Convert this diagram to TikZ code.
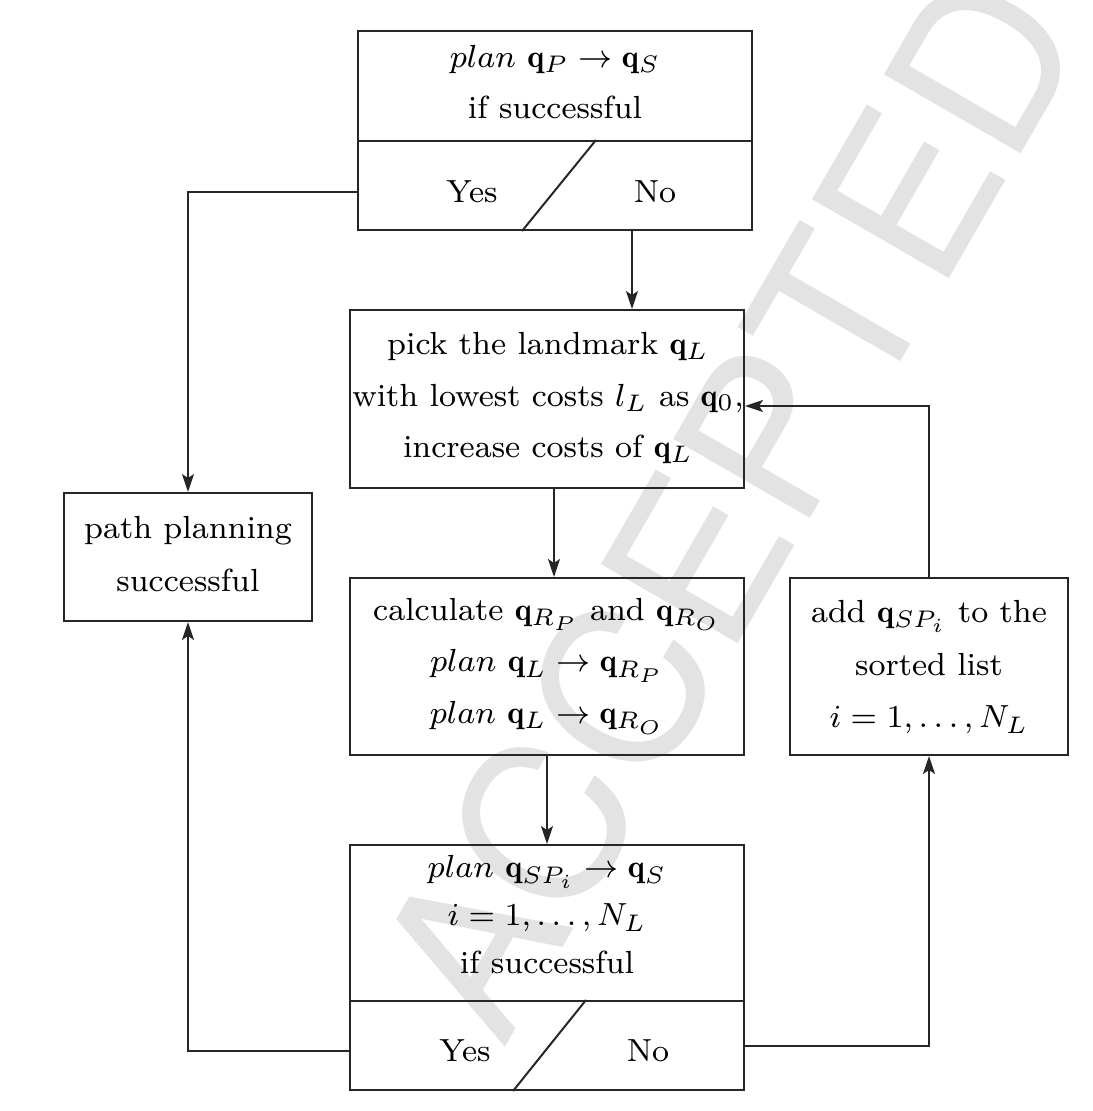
\documentclass[tikz,border=0pt]{standalone}
\usepackage{fontspec}
\newfontfamily\wmfont{TeX Gyre Heros}
\usetikzlibrary{arrows.meta,calc}
\tikzset{
  box/.style={draw=black!85, line width=0.6pt, inner sep=0pt, rectangle},
  txt/.style={inner sep=0pt, align=center, scale=1.2, transform shape, font=\fontsize{8}{12.9}\selectfont},
  conn/.style={draw=black!85, line width=0.6pt, -{Stealth[length=5.4pt,width=3.6pt,inset=1.2pt]}},
  divline/.style={draw=black!85, line width=0.6pt}
}
\begin{document}
\begin{tikzpicture}[x=0.3pt,y=-0.3pt]
\useasboundingbox (0,0) rectangle (1093,1111);
% watermark
\node[rotate=60, text=black!11, inner sep=0pt, font=\wmfont\fontsize{65}{65}\selectfont] (wm) at (728,503) {ACCEPTED};

% decision 1
\node[box, minimum width=118.2pt, minimum height=33pt] (d1t) at (555,86) {};
\node[box, minimum width=118.2pt, minimum height=26.7pt] (d1b) at (555,185.5) {};
\node[txt] (d1txt) at (555,82) {$plan~\mathbf{q}_P \rightarrow \mathbf{q}_S$\\ if successful};
\node[txt] (yes1) at (472,192) {Yes};
\node[txt] (no1) at (655,192) {No};
\draw[divline] ($(d1b.north west)+(239,0)$) coordinate (d1a) -- ($(d1b.south west)+(165,0)$) coordinate (d1c);

% box 2
\node[box, minimum width=118.2pt, minimum height=53.4pt] (b2) at (547,399) {};
\node[txt] (b2txt) at (548,398) {pick the landmark $\mathbf{q}_L$\\ with lowest costs $l_L$ as $\mathbf{q}_0$,\\ increase costs of $\mathbf{q}_L$};

% box 3
\node[box, minimum width=118.2pt, minimum height=53.1pt] (b3) at (547,666.5) {};
\node[txt] (b3txt) at (547,666) {calculate $\mathbf{q}_{R_P}$ and $\mathbf{q}_{R_O}$\\ $plan~\mathbf{q}_L \rightarrow \mathbf{q}_{R_P}$\\ $plan~\mathbf{q}_L \rightarrow \mathbf{q}_{R_O}$};

% decision 2
\node[box, minimum width=118.2pt, minimum height=46.8pt] (d2t) at (547,923) {};
\node[box, minimum width=118.2pt, minimum height=26.7pt] (d2b) at (547,1045.5) {};
\node[txt, font=\fontsize{8}{12}\selectfont] (d2txt) at (547,915) {$plan~\mathbf{q}_{SP_i} \rightarrow \mathbf{q}_S$\\ $i = 1,\dots,N_L$\\ if successful};
\node[txt] (yes2) at (465,1051) {Yes};
\node[txt] (no2) at (648,1051) {No};
\draw[divline] ($(d2b.north west)+(237,0)$) coordinate (d2a) -- ($(d2b.south west)+(164,0)$) coordinate (d2c);

% box 5
\node[box, minimum width=83.4pt, minimum height=53.1pt] (b5) at (929,666.5) {};
\node[txt, font=\fontsize{8}{13.2}\selectfont] (b5txt) at (929,667) {add $\mathbf{q}_{SP_i}$ to the\\ sorted list\\ $i = 1,\dots,N_L$};

% box 6
\node[box, minimum width=74.4pt, minimum height=38.4pt] (b6) at (188,557) {};
\node[txt, font=\fontsize{8}{13.3}\selectfont] (b6txt) at (188,554) {path planning\\ successful};

% connectors
\draw[conn] (d1b.west |- yes1.center) -| (b6.north);
\coordinate (no1s) at ($(d1b.south west)+(275,0)$);
\draw[conn] (no1s) -- (no1s |- b2.north);
\coordinate (b2s) at ($(b2.south)+(7,0)$);
\draw[conn] (b2s) -- (b2s |- b3.north);
\draw[conn] (b3.south) -- (d2t.north);
\draw[conn] (d2b.west |- yes2.center) -| (b6.south);
\draw[conn] (d2b.east) -| (b5.south);
\coordinate (b2e) at ($(b2.east)+(0,7)$);
\draw[conn] (b5.north) |- (b2e);
\end{tikzpicture}
\end{document}
